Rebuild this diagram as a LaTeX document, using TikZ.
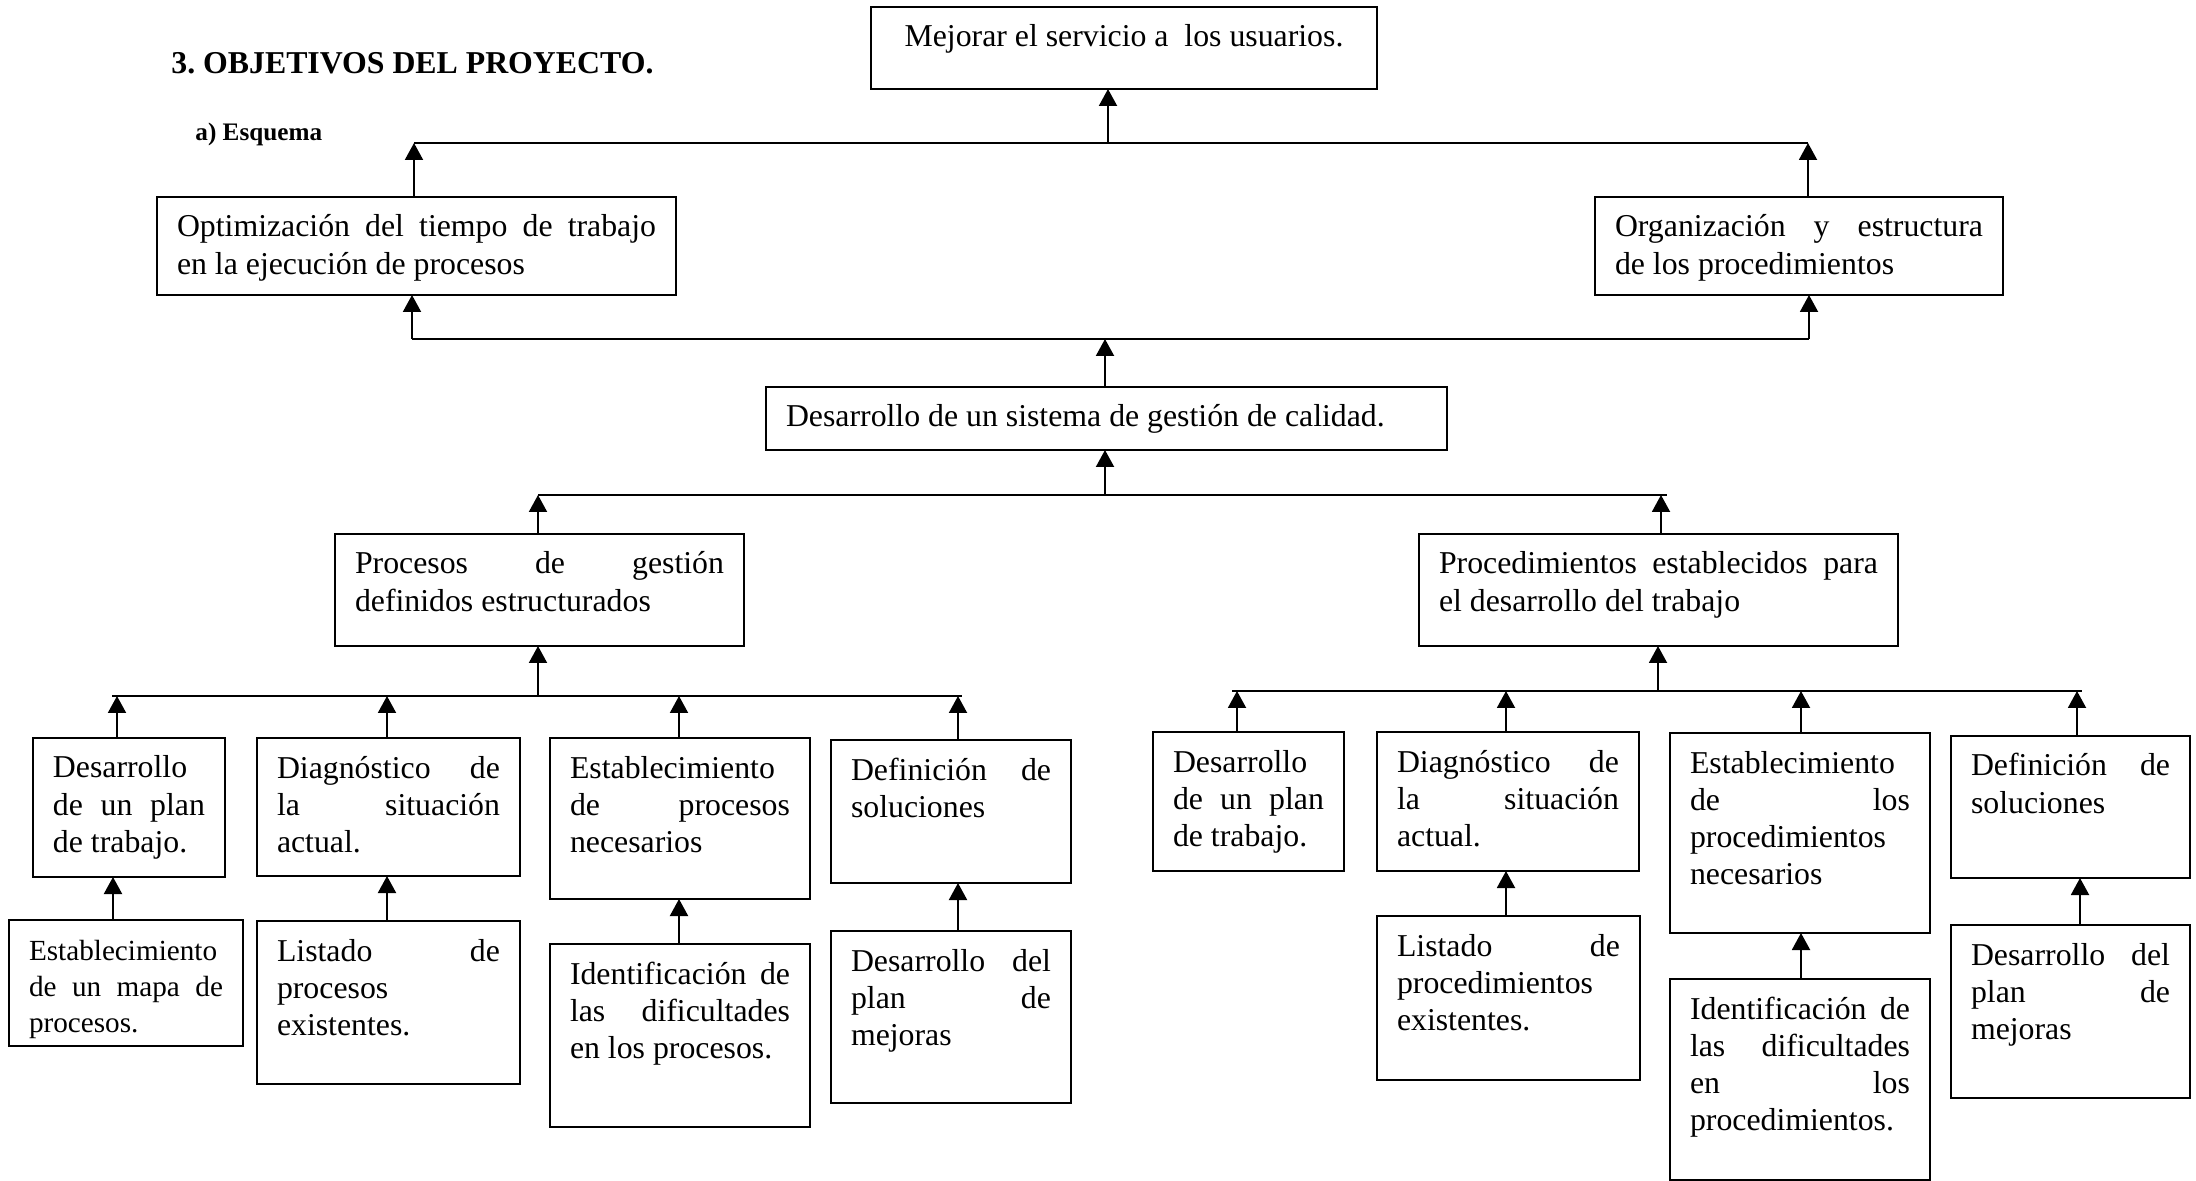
\documentclass[tikz,border=0pt]{standalone}
\usepackage{fontspec}
\setmainfont{Liberation Serif}
\usetikzlibrary{arrows.meta}
\frenchspacing

\newcommand\J[1]{\makebox[\linewidth][s]{#1}}
\newcommand\mybox[6]{%
  \node[bx] (#1) at (#2,#3) {\parbox[c][\dimexpr 0.5pt*(#5-#3)\relax][t]{\dimexpr 0.5pt*(#4-#2)-20pt\relax}{\raggedright\fontsize{15.9}{18.6}\selectfont\rule{0pt}{20pt}#6\par}};%
}

\tikzset{
  bx/.style={draw, line width=1pt, inner xsep=10pt, inner ysep=0pt, anchor=north west, outer sep=0pt},
  ln/.style={line width=1pt},
  arr/.style={line width=1pt, -{Triangle[length=8.5pt,width=9pt]}},
}

\begin{document}
\begin{tikzpicture}[x=0.5pt,y=-0.5pt]
\useasboundingbox (0,0) rectangle (2196,1181);
\fill[white] (0,0) rectangle (2196,1181);

% headings
\node[anchor=base west, inner sep=0pt, font=\bfseries\fontsize{15.9}{19}\selectfont] (title) at (171,74) {3. OBJETIVOS DEL PROYECTO.};
\node[anchor=base west, inner sep=0pt, font=\bfseries\fontsize{12.6}{15}\selectfont] (sub) at (195,141) {a) Esquema};

% boxes
\mybox{top}{871}{7}{1377}{89}{\centering Mejorar el servicio a\ \ los usuarios.}
\mybox{opt}{157}{197}{676}{295}{\J{Optimización del tiempo de trabajo}\\en la ejecución de procesos}
\mybox{org}{1595}{197}{2003}{295}{\J{Organización y estructura}\\de los procedimientos}
\mybox{des}{766}{387}{1447}{450}{Desarrollo de un sistema de gestión de calidad.}
\mybox{proc}{335}{534}{744}{646}{\J{Procesos de gestión}\\definidos estructurados}
\mybox{pro2}{1419}{534}{1898}{646}{\J{Procedimientos establecidos para}\\el desarrollo del trabajo}

\mybox{c1}{33}{738}{225}{877}{Desarrollo\\\J{de un plan}\\de trabajo.}
\mybox{c2}{257}{738}{520}{876}{\J{Diagnóstico de}\\\J{la situación}\\actual.}
\mybox{c3}{550}{738}{810}{899}{Establecimiento\\\J{de procesos}\\necesarios}
\mybox{c4}{831}{740}{1071}{883}{\J{Definición de}\\soluciones}
\mybox{g1}{9}{920}{243}{1046}{\fontsize{14.6}{18.2}\selectfont Establecimiento\\\J{de un mapa de}\\procesos.}
\mybox{g2}{257}{921}{520}{1084}{\J{Listado de}\\procesos\\existentes.}
\mybox{g3}{550}{944}{810}{1127}{\J{Identificación de}\\\J{las dificultades}\\en los procesos.}
\mybox{g4}{831}{931}{1071}{1103}{\J{Desarrollo del}\\\J{plan de}\\mejoras}

\mybox{rc1}{1153}{732}{1344}{871}{Desarrollo\\\J{de un plan}\\de trabajo.}
\mybox{rc2}{1377}{732}{1639}{871}{\J{Diagnóstico de}\\\J{la situación}\\actual.}
\mybox{rc3}{1670}{733}{1930}{933}{Establecimiento\\\J{de los}\\procedimientos\\necesarios}
\mybox{rc4}{1951}{736}{2190}{878}{\J{Definición de}\\soluciones}
\mybox{rg2}{1377}{916}{1640}{1080}{\J{Listado de}\\procedimientos\\existentes.}
\mybox{rg3}{1670}{979}{1930}{1180}{\J{Identificación de}\\\J{las dificultades}\\\J{en los}\\procedimientos.}
\mybox{rg4}{1951}{925}{2190}{1098}{\J{Desarrollo del}\\\J{plan de}\\mejoras}

% level 1
\coordinate (l1a) at (414,143);
\coordinate (l1b) at (1808,143);
\coordinate (l1c) at (1108,143);
\draw[ln] (l1a) -- (l1b);
\draw[arr] (opt.north -| l1a) -- (l1a);
\draw[arr] (org.north -| l1b) -- (l1b);
\draw[arr] (l1c) -- (top.south -| l1c);

% level 2
\coordinate (l2a) at (412,339);
\coordinate (l2b) at (1809,339);
\coordinate (l2c) at (1105,339);
\draw[ln] (l2a) -- (l2b);
\draw[arr] (l2a) -- (opt.south -| l2a);
\draw[arr] (l2b) -- (org.south -| l2b);
\draw[arr] (des.north -| l2c) -- (l2c);

% level 3
\coordinate (l3s) at (538,495);
\coordinate (l3e) at (1667,495);
\coordinate (l3c) at (1105,495);
\coordinate (l3b) at (1661,495);
\draw[ln] (l3s) -- (l3e);
\draw[arr] (l3c) -- (des.south -| l3c);
\draw[arr] (proc.north -| l3s) -- (l3s);
\draw[arr] (pro2.north -| l3b) -- (l3b);

% left group
\coordinate (l4s) at (112,696);
\coordinate (l4e) at (962,696);
\coordinate (l4p) at (538,696);
\coordinate (l4a) at (117,696);
\coordinate (l4b) at (387,696);
\coordinate (l4c) at (679,696);
\coordinate (l4d) at (958,696);
\draw[ln] (l4s) -- (l4e);
\draw[arr] (l4p) -- (proc.south -| l4p);
\draw[arr] (c1.north -| l4a) -- (l4a);
\draw[arr] (c2.north -| l4b) -- (l4b);
\draw[arr] (c3.north -| l4c) -- (l4c);
\draw[arr] (c4.north -| l4d) -- (l4d);
\coordinate (g1x) at (113,0);
\draw[arr] (g1.north -| g1x) -- (c1.south -| g1x);
\draw[arr] (g2.north -| l4b) -- (c2.south -| l4b);
\draw[arr] (g3.north -| l4c) -- (c3.south -| l4c);
\draw[arr] (g4.north -| l4d) -- (c4.south -| l4d);

% right group
\coordinate (l5s) at (1232,691);
\coordinate (l5e) at (2082,691);
\coordinate (l5p) at (1658,691);
\coordinate (l5a) at (1237,691);
\coordinate (l5b) at (1506,691);
\coordinate (l5c) at (1801,691);
\coordinate (l5d) at (2077,691);
\draw[ln] (l5s) -- (l5e);
\draw[arr] (l5p) -- (pro2.south -| l5p);
\draw[arr] (rc1.north -| l5a) -- (l5a);
\draw[arr] (rc2.north -| l5b) -- (l5b);
\draw[arr] (rc3.north -| l5c) -- (l5c);
\draw[arr] (rc4.north -| l5d) -- (l5d);
\coordinate (rg4x) at (2080,0);
\draw[arr] (rg2.north -| l5b) -- (rc2.south -| l5b);
\draw[arr] (rg3.north -| l5c) -- (rc3.south -| l5c);
\draw[arr] (rg4.north -| rg4x) -- (rc4.south -| rg4x);
\end{tikzpicture}
\end{document}
